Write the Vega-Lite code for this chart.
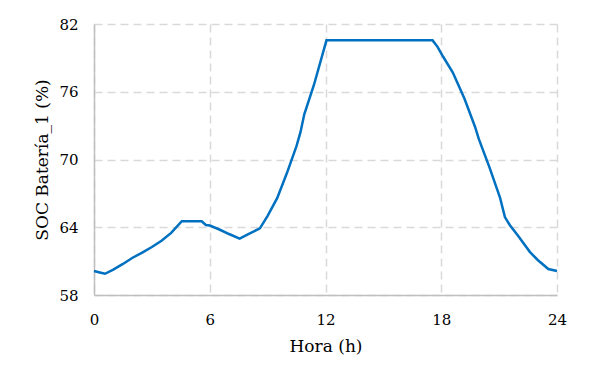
{
  "$schema": "https://vega.github.io/schema/vega-lite/v6.json",
  "width": 463,
  "height": 271,
  "autosize": {"type": "none"},
  "padding": {"left": 94, "top": 24, "right": 36, "bottom": 91},
  "background": "white",
  "config": {
    "view": {"stroke": null},
    "font": "DejaVu Serif"
  },
  "data": {
    "values": [
      {"h": 0, "soc": 60.13},
      {"h": 0.3, "soc": 60.0},
      {"h": 0.57, "soc": 59.88},
      {"h": 1.0, "soc": 60.25},
      {"h": 1.5, "soc": 60.75},
      {"h": 2.0, "soc": 61.3},
      {"h": 2.5, "soc": 61.75},
      {"h": 3.0, "soc": 62.25},
      {"h": 3.5, "soc": 62.8},
      {"h": 4.0, "soc": 63.5},
      {"h": 4.55, "soc": 64.53},
      {"h": 5.58, "soc": 64.53},
      {"h": 5.8, "soc": 64.2},
      {"h": 6.0, "soc": 64.15},
      {"h": 6.5, "soc": 63.8},
      {"h": 7.0, "soc": 63.4},
      {"h": 7.55, "soc": 63.0},
      {"h": 8.0, "soc": 63.4},
      {"h": 8.6, "soc": 63.9},
      {"h": 9.0, "soc": 65.0},
      {"h": 9.5, "soc": 66.6},
      {"h": 10.0, "soc": 68.8},
      {"h": 10.5, "soc": 71.2},
      {"h": 10.7, "soc": 72.4},
      {"h": 10.9, "soc": 74.0},
      {"h": 11.4, "soc": 76.6},
      {"h": 12.05, "soc": 80.55},
      {"h": 17.55, "soc": 80.55},
      {"h": 17.8, "soc": 80.0},
      {"h": 18.1, "soc": 79.1},
      {"h": 18.6, "soc": 77.7},
      {"h": 19.2, "soc": 75.4},
      {"h": 19.75, "soc": 72.9},
      {"h": 19.95, "soc": 71.8},
      {"h": 20.5, "soc": 69.3},
      {"h": 21.05, "soc": 66.6},
      {"h": 21.3, "soc": 64.9},
      {"h": 21.55, "soc": 64.2},
      {"h": 22.0, "soc": 63.2},
      {"h": 22.6, "soc": 61.8},
      {"h": 23.0, "soc": 61.1},
      {"h": 23.55, "soc": 60.3},
      {"h": 24.0, "soc": 60.13}
    ]
  },
  "mark": {"type": "line", "color": "#0070C0", "strokeWidth": 2.5, "clip": false},
  "encoding": {
    "x": {
      "field": "h",
      "type": "quantitative",
      "scale": {"domain": [0, 24], "nice": false, "zero": false},
      "axis": {
        "title": "Hora (h)",
        "values": [0, 6, 12, 18, 24],
        "grid": true,
        "gridColor": "#d9d9d9",
        "gridDash": [8, 5],
        "gridWidth": 1.5,
        "domainColor": "#bfbfbf",
        "domainWidth": 1.5,
        "ticks": false,
        "labelPadding": 17,
        "labelFont": "DejaVu Serif",
        "labelFontSize": 15,
        "labelColor": "#000000",
        "labelFlush": false,
        "titleFont": "DejaVu Serif",
        "titleFontSize": 17,
        "titleFontWeight": "normal",
        "titleColor": "#000000",
        "titlePadding": 11
      }
    },
    "y": {
      "field": "soc",
      "type": "quantitative",
      "scale": {"domain": [58, 82], "nice": false, "zero": false},
      "axis": {
        "title": "SOC Batería_1 (%)",
        "values": [58, 64, 70, 76, 82],
        "grid": true,
        "gridColor": "#d9d9d9",
        "gridDash": [8, 5],
        "gridWidth": 1.5,
        "domainColor": "#bfbfbf",
        "domainWidth": 1.5,
        "ticks": false,
        "labelPadding": 16,
        "labelFont": "DejaVu Serif",
        "labelFontSize": 15,
        "labelColor": "#000000",
        "labelFlush": false,
        "titleFont": "DejaVu Serif",
        "titleFontSize": 17,
        "titleFontWeight": "normal",
        "titleColor": "#000000",
        "titlePadding": 7
      }
    }
  }
}
